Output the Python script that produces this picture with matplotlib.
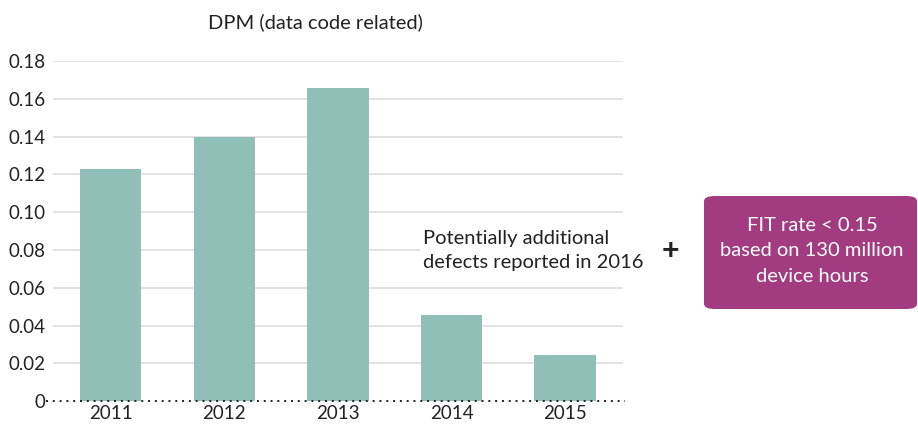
import matplotlib
matplotlib.use("Agg")
import matplotlib.pyplot as plt
from matplotlib.patches import FancyBboxPatch

plt.rcParams['font.family'] = ['Lato', 'DejaVu Sans']

years = ['2011', '2012', '2013', '2014', '2015']
dpm = [0.123, 0.140, 0.166, 0.0455, 0.0245]
yticks = [0, 0.02, 0.04, 0.06, 0.08, 0.10, 0.12, 0.14, 0.16, 0.18]
ytick_labels = ['0', '0.02', '0.04', '0.06', '0.08', '0.10', '0.12', '0.14', '0.16', '0.18']

fig = plt.figure(figsize=(9.18, 4.28), dpi=100)
ax = fig.add_axes([0.0501, 0.063, 0.631, 0.794])

x = list(range(len(years)))
ax.bar(x, dpm, width=0.54, color='#8FBFB7', zorder=2)

ax.set_xlim(-0.57, 4.53)
ax.set_ylim(0, 0.18)
for v in yticks[1:]:
    ax.plot([-0.5, 4.5], [v, v], color='#E2DEDF', lw=1.3, zorder=1)
ax.axhline(0, color='#222222', lw=1.4, ls=(0, (1, 2.5)), zorder=3, clip_on=False)

ax.set_yticks(yticks)
ax.set_yticklabels(ytick_labels)
ax.set_xticks(x)
ax.set_xticklabels(years)
ax.tick_params(length=0, labelsize=13.5, colors='#222222', pad=3)
ax.tick_params(axis='y', pad=0.5)
for s in ax.spines.values():
    s.set_visible(False)

fig.text(315 / 918, 1 - 22 / 428, 'DPM (data code related)', fontsize=14.5,
         color='#222222', ha='center', va='center')

ax.text(2.75, 0.0795, 'Potentially additional\ndefects reported in 2016', fontsize=14.5,
        color='#222222', ha='left', va='center', linespacing=1.5, zorder=4,
        bbox=dict(facecolor='white', edgecolor='none', pad=2))

fig.text(670 / 918, 1 - 251 / 428, '+', fontsize=22, fontweight='bold', color='#222222',
         ha='center', va='center')

box = FancyBboxPatch((704 / 918, 1 - 309 / 428), (917 - 704) / 918, (309 - 196) / 428,
                     boxstyle='round,pad=0,rounding_size=0.012', transform=fig.transFigure,
                     facecolor='#A23B80', edgecolor='none')
fig.patches.append(box)
fig.text(812 / 918, 1 - 251 / 428, 'FIT rate < 0.15\nbased on 130 million\ndevice hours',
         fontsize=14.5, color='white', ha='center', va='center', linespacing=1.6)

fig.savefig('out.png', dpi=100)
